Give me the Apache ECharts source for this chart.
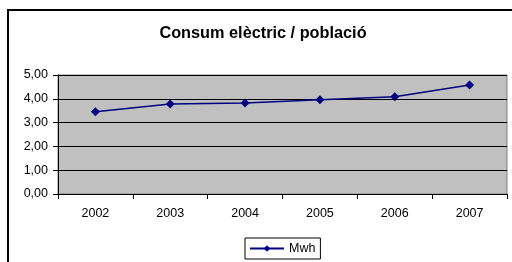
<!DOCTYPE html>
<html><head><meta charset="utf-8">
<script src="https://cdn.jsdelivr.net/npm/echarts@6/dist/echarts.min.js"></script>
<style>html,body{margin:0;padding:0;background:#fff}#c{width:512px;height:262px}</style>
</head><body><div id="c"></div>
<script>
const categories = ['2002','2003','2004','2005','2006','2007'];
const seriesName = 'Mwh';
const values = [3.46, 3.78, 3.82, 3.96, 4.09, 4.58];
const title = 'Consum elèctric / població';

const chart = echarts.init(document.getElementById('c'), null, {renderer:'canvas'});
const font = '"Liberation Sans", Arial, sans-serif';
chart.setOption({
  animation:false,
  backgroundColor:'#fff',
  title:{text:title, left:258, top:21, textAlign:'center',
    textStyle:{fontFamily:font,fontSize:16.3,fontWeight:'bold',color:'#000'}},
  graphic:[{type:'rect', shape:{x:8,y:10,width:520,height:270}, style:{fill:'none',stroke:'#000',lineWidth:2}, silent:true}],
  grid:{left:58, right:5, top:75, bottom:68, show:true, backgroundColor:'#c0c0c0', borderColor:'#808080', borderWidth:1},
  legend:{data:[seriesName], left:245, top:238, width:74, height:22, padding:[4,5,4,4],
    borderColor:'#000', borderWidth:1, itemWidth:34, itemHeight:8, itemGap:2,
    textStyle:{fontFamily:font,fontSize:12.5,color:'#000'}},
  xAxis:{type:'category', data:categories, boundaryGap:true,
    axisLine:{lineStyle:{color:'#000',width:1}},
    axisTick:{show:true, length:5, lineStyle:{color:'#000'}},
    axisLabel:{fontFamily:font,fontSize:12.5,color:'#000',margin:13},
    splitLine:{show:false}},
  yAxis:{type:'value', min:0, max:5, interval:1,
    axisLine:{show:true,lineStyle:{color:'#000',width:1}},
    axisTick:{show:true, length:5, lineStyle:{color:'#000'}},
    axisLabel:{fontFamily:font,fontSize:12.5,color:'#000',margin:10,
      formatter:v=>v.toFixed(2).replace('.',',')},
    splitLine:{show:true,lineStyle:{color:'#000',width:1}}},
  series:[{name:seriesName, type:'line', data:values, symbol:'diamond', symbolSize:9,
    lineStyle:{color:'#000080',width:1.5}, itemStyle:{color:'#000080'}}]
});
</script></body></html>
